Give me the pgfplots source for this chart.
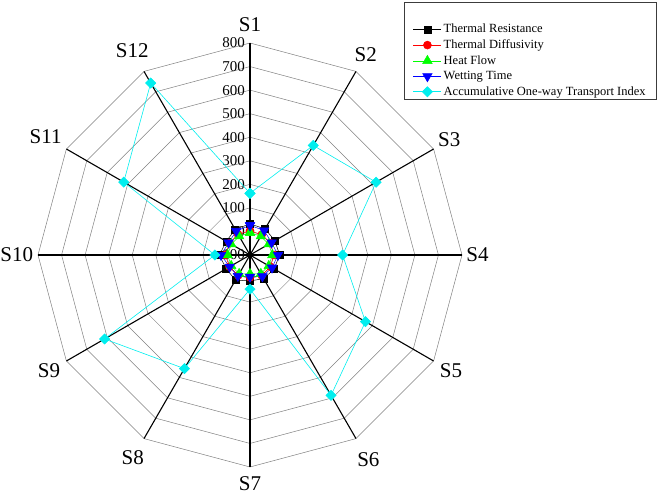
\documentclass[border=0pt]{standalone}
\usepackage{fontspec}
\setmainfont{Liberation Serif}
\usepackage{pgfplots}
\usepackage{pgfplotstable}
\pgfplotsset{compat=1.18}
\usepgfplotslibrary{polar}

\definecolor{aqua}{RGB}{0,238,238}
\definecolor{brd}{RGB}{60,60,60}

% s = sample index (S1..S12), row 13 closes the loop
\pgfplotstableread{
s  res  dif  heat  wet  aoti
1  32   2    -5    26   162
2  28   0    -8    20   437
3  22   0    -8    6    518
4  26   2    -5    19   293
5  18   0    -8    8    466
6  16   0    -8    5    588
7  10   -5   -20   -7   45
8  23   0    -8    3    457
9  17   0    -8    0    613
10 30   5    -5    23   49
11 16   0    -8    5    519
12 26   2    -8    17   743
13 32   2    -5    26   162
}\data

\begin{document}
\begin{tikzpicture}
\path[use as bounding box] (-250pt,-242pt) rectangle (410pt,255pt);
\begin{polaraxis}[
    at={(0,0)}, anchor=origin,
    scale only axis, width=424pt, height=424pt,
    ymin=0, ymax=900,
    hide axis, clip=false,
    x filter/.expression={90-30*(x-1)},
    y filter/.expression={y+100},
    legend cell align=left,
    legend image code/.code={
        \draw[mark repeat=2,mark phase=2] plot coordinates {(0pt,0pt) (14pt,0pt) (28pt,0pt)};},
    legend style={at={(axis description cs:1.46,1.097)}, anchor=north east,
        draw=brd, line width=0.8pt, fill=white,
        font=\fontsize{12.5}{14}\selectfont, inner xsep=9pt, inner ysep=1pt,
        row sep=1.5pt},
]
% rings
\pgfplotsinvokeforeach{0,100,...,800}{
  \addplot[gray, line width=0.5pt, no marks, forget plot] coordinates
    {(1,#1)(2,#1)(3,#1)(4,#1)(5,#1)(6,#1)(7,#1)(8,#1)(9,#1)(10,#1)(11,#1)(12,#1)(13,#1)};
}
% spokes
\pgfplotsinvokeforeach{0,30,...,330}{
  \draw[black, line width=1.1pt] (axis cs:0,0) -- (axis cs:#1,900);
}
\fill[black] (axis cs:0,0) circle (3pt);

% radial tick labels
\begin{scope}[every node/.style={anchor=east, inner sep=0pt, xshift=-5pt,
    font=\fontsize{15}{16}\selectfont}]
\node at (axis cs:90,0) {-100};
\node at (axis cs:90,100) {0};
\node at (axis cs:90,200) {100};
\node at (axis cs:90,300) {200};
\node at (axis cs:90,400) {300};
\node at (axis cs:90,500) {400};
\node at (axis cs:90,600) {500};
\node at (axis cs:90,700) {600};
\node at (axis cs:90,800) {700};
\node at (axis cs:90,900) {800};
\end{scope}

% category labels
\begin{scope}[every node/.style={inner sep=3pt, font=\fontsize{21}{24}\selectfont}]
\node[anchor=270] at (axis cs:90,936) {S1};
\node[anchor=240] at (axis cs:60,932) {S2};
\node[anchor=210] at (axis cs:30,907) {S3};
\node[anchor=180] at (axis cs:0,905) {S4};
\node[anchor=150] at (axis cs:-30,915) {S5};
\node[anchor=120] at (axis cs:-60,955) {S6};
\node[anchor=90] at (axis cs:-90,928) {S7};
\node[anchor=60] at (axis cs:-120,945) {S8};
\node[anchor=30] at (axis cs:-150,915) {S9};
\node[anchor=0] at (axis cs:180,907) {S10};
\node[anchor=-30] at (axis cs:150,915) {S11};
\node[anchor=-60] at (axis cs:120,950) {S12};
\end{scope}

\addlegendimage{empty legend}
\addlegendentry{\rule{0pt}{12pt}}

\addplot[black, line width=0.5pt, mark=square*, mark size=3.5pt] table[x=s, y=res] {\data};
\addlegendentry{Thermal Resistance}
\addplot[red, line width=0.5pt, mark=*, mark size=4pt] table[x=s, y=dif] {\data};
\addlegendentry{Thermal Diffusivity}
\addplot[green, line width=0.5pt, mark=triangle*, mark size=5.5pt] table[x=s, y=heat] {\data};
\addlegendentry{Heat Flow}
\addplot[blue, line width=0.5pt, mark=triangle*, mark size=5.5pt, mark options={rotate=180}] table[x=s, y=wet] {\data};
\addlegendentry{Wetting Time}
\addplot[aqua, line width=0.6pt, mark=square*, mark size=3.6pt, mark options={rotate=45}] table[x=s, y=aoti] {\data};
\addlegendentry{Accumulative One-way Transport Index}
\end{polaraxis}
\end{tikzpicture}
\end{document}
